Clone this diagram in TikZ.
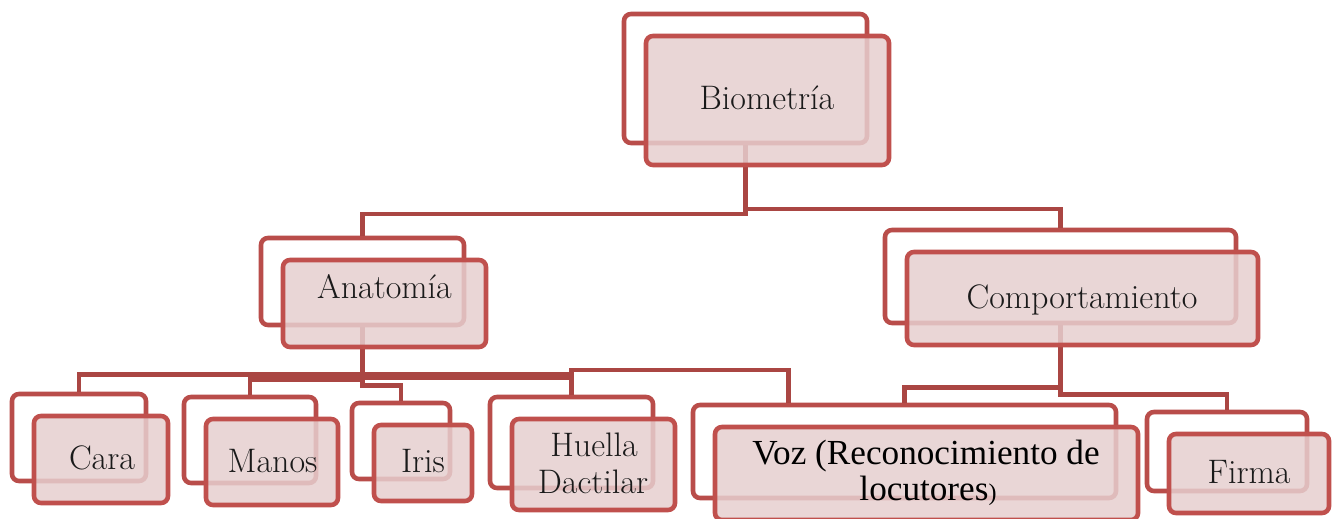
\documentclass[tikz,border=0pt]{standalone}
\usepackage{fontspec}
\newfontfamily\vozfont{Liberation Serif}
\usetikzlibrary{calc}
\definecolor{backline}{HTML}{B94D4A}
\definecolor{frontline}{HTML}{C0504D}
\definecolor{frontfill}{HTML}{E6CFCF}
\definecolor{connline}{HTML}{AA4643}
\definecolor{textcol}{HTML}{1A1A1A}
\tikzset{
  backbox/.style={draw=backline, line width=2.3pt, fill=white, rounded corners=3.5pt, inner sep=0pt},
  frontbox/.style={draw=frontline, line width=2.3pt, fill=frontfill, fill opacity=0.85, rounded corners=3.5pt, inner sep=0pt},
  conn/.style={draw=connline, line width=2.2pt},
  lbl/.style={text=textcol, font=\fontsize{17}{18}\selectfont, anchor=base, inner sep=0pt},
  vozlbl/.style={text=black, font=\vozfont\fontsize{17.6}{18}\selectfont, anchor=base, inner sep=0pt}
}
\newcommand\backnode[5]{\node[backbox, minimum width=#4pt, minimum height=#5pt] (#1B) at (#2,#3) {};}
\newcommand\frontnode[5]{\node[frontbox, minimum width=#4pt, minimum height=#5pt] (#1F) at ($(#2,#3)+(22,22)$) {};}
\begin{document}
\begin{tikzpicture}[x=0.5pt,y=-0.5pt]
\useasboundingbox (0,0) rectangle (1335,519);
% back boxes
\backnode{bio}{745.5}{78.5}{121.5}{64.5}
\backnode{ana}{362.5}{281.5}{101.5}{43.5}
\backnode{comp}{1060.5}{276.5}{175.5}{46.5}
\backnode{cara}{79}{437.5}{67}{43.5}
\backnode{manos}{250}{440}{66}{43}
\backnode{iris}{401}{441}{49}{38}
\backnode{huella}{571.5}{442.5}{81.5}{45.5}
\backnode{voz}{904.5}{451.5}{211.5}{46.5}
\backnode{firma}{1227}{451.5}{80}{39.5}
% connectors
\draw[conn] (bioB.south) -- ++(0,69) -| (anaB.north);
\draw[conn] (bioB.south) -- ++(0,64) -| (compB.north);
\draw[conn] (anaB.south) -- ++(0,47) -| (caraB.north);
\draw[conn] (anaB.south) -- ++(0,52) -| (manosB.north);
\draw[conn] (anaB.south) -- ++(0,58) -| (irisB.north);
\draw[conn] (anaB.south) -- ++(0,50) -| (huellaB.north);
\coordinate (vozIn) at ($(vozB.north)+(-116,0)$);
\draw[conn] (anaB.south) -- ++(0,47) -| ($(huellaB.north)+(0,-25)$) -| (vozIn);
\draw[conn] (compB.south) -- ++(0,62) -| (vozB.north);
\draw[conn] (compB.south) -- ++(0,69) -| (firmaB.north);
% front boxes
\frontnode{bio}{745.5}{78.5}{121.5}{64.5}
\frontnode{ana}{362.5}{281.5}{101.5}{43.5}
\frontnode{comp}{1060.5}{276.5}{175.5}{46.5}
\frontnode{cara}{79}{437.5}{67}{43.5}
\frontnode{manos}{250}{440}{66}{43}
\frontnode{iris}{401}{441}{49}{38}
\frontnode{huella}{571.5}{442.5}{81.5}{45.5}
\frontnode{voz}{904.5}{451.5}{211.5}{46.5}
\frontnode{firma}{1227}{451.5}{80}{39.5}
% labels
\node[lbl] (bioT) at (767,110) {Biometría};
\node[lbl] (anaT) at (384.5,299) {Anatomía};
\node[lbl] (compT) at (1082,308) {Comportamiento};
\node[lbl] (caraT) at (102,469) {Cara};
\node[lbl] (manosT) at (272.5,472) {Manos};
\node[lbl] (irisT) at (423,472) {Iris};
\node[lbl] (huellaT1) at (594,456) {Huella};
\node[lbl] (huellaT2) at (593,493) {Dactilar};
\node[vozlbl] (vozT1) at (926,464) {Voz (Reconocimiento de};
\node[vozlbl] (vozT2) at (928,500) {locutores{\fontsize{12}{12}\selectfont)}};
\node[lbl] (firmaT) at (1249,483) {Firma};
\end{tikzpicture}
\end{document}
